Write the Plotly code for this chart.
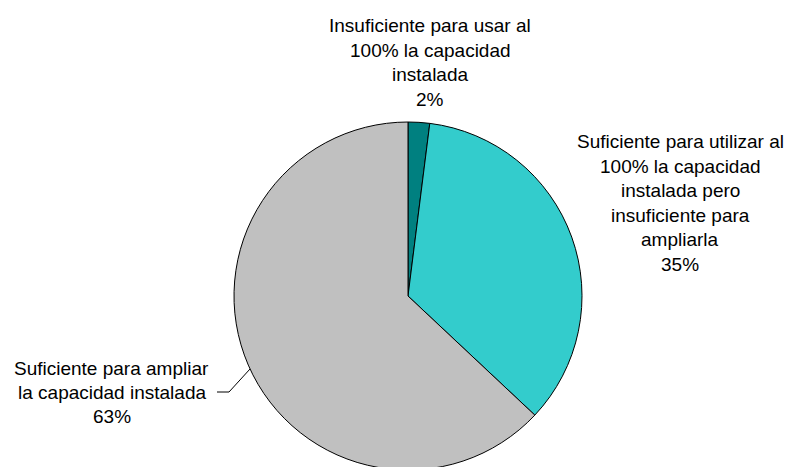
import plotly.graph_objects as go

W, H = 803, 467
OFF = 8  # page body margin

categories = [
    "Insuficiente para usar al 100% la capacidad instalada",
    "Suficiente para utilizar al 100% la capacidad instalada pero insuficiente para ampliarla",
    "Suficiente para ampliar la capacidad instalada",
]
values = [2, 35, 63]
colors = ["#008080", "#33CCCC", "#C0C0C0"]

label_lines = [
    ["Insuficiente para usar al", "100% la capacidad", "instalada", "2%"],
    ["Suficiente para utilizar al", "100% la capacidad", "instalada pero", "insuficiente para", "ampliarla", "35%"],
    ["Suficiente para ampliar", "la capacidad instalada", "63%"],
]
# label block layout (page pixel centre x, first-line y)
label_pos = [(430, 26), (680, 142), (112, 368)]
line_step = 24.4

def px(x):
    return (x - OFF) / W

def py(y):
    return 1 - (y - OFF) / H

fig = go.Figure()
fig.add_trace(go.Pie(
    labels=categories,
    values=values,
    marker=dict(colors=colors, line=dict(color="black", width=1)),
    sort=False,
    direction="clockwise",
    rotation=0,
    textinfo="none",
    hoverinfo="label+percent",
    showlegend=False,
    domain=dict(x=[px(408 - 200), px(408 + 200)], y=[py(470), py(122)]),
))

annotations = []
for lines, (cx, y0) in zip(label_lines, label_pos):
    for i, t in enumerate(lines):
        annotations.append(dict(
            x=px(cx), y=py(y0 + i * line_step), xref="paper", yref="paper",
            text=t, showarrow=False, xanchor="center", yanchor="middle",
            font=dict(family="Liberation Sans, Arial, sans-serif", size=19, color="black"),
        ))

fig.add_shape(type="path",
              path=f"M {px(217)} {py(392)} L {px(229)} {py(392)} L {px(250)} {py(369)}",
              xref="paper", yref="paper", line=dict(color="black", width=1))

fig.update_layout(
    width=W, height=H,
    margin=dict(l=0, r=0, t=0, b=0),
    paper_bgcolor="white", plot_bgcolor="white",
    annotations=annotations,
)

fig.write_html("out.html")
